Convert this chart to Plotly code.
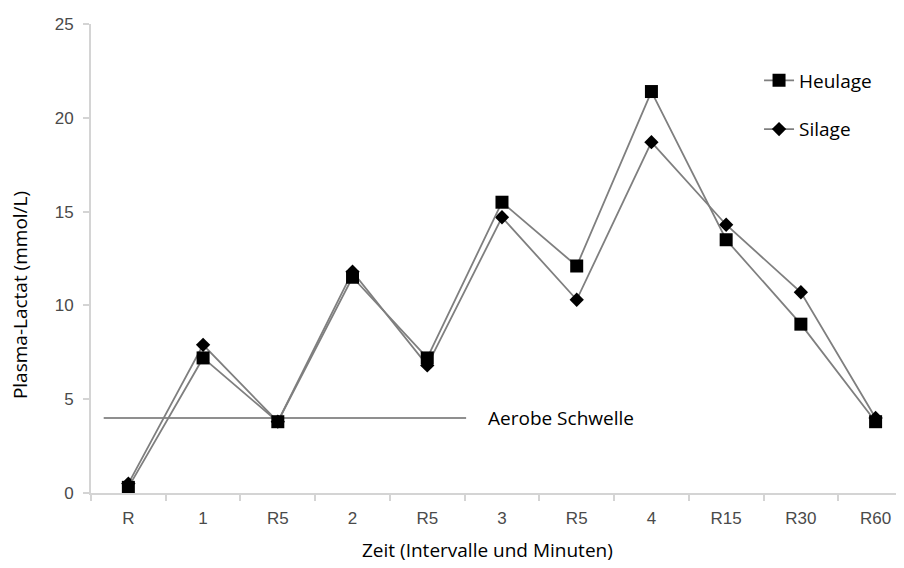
import plotly.graph_objects as go

categories = ["R", "1", "R5", "2", "R5", "3", "R5", "4", "R15", "R30", "R60"]
heulage = [0.3, 7.2, 3.8, 11.5, 7.2, 15.5, 12.1, 21.4, 13.5, 9.0, 3.8]
silage = [0.5, 7.9, 3.8, 11.8, 6.8, 14.7, 10.3, 18.7, 14.3, 10.7, 4.0]
threshold_value = 4.0
threshold_x = [-0.33, 4.52]
threshold_label = "Aerobe Schwelle"
y_ticks = [0, 5, 10, 15, 20, 25]

xpos = list(range(len(categories)))

TITLE_FONT = dict(family="Open Sans", size=19, color="black")

fig = go.Figure()
fig.add_trace(go.Scatter(
    x=threshold_x, y=[threshold_value, threshold_value], mode="lines",
    line=dict(color="#6a6a6a", width=1.5), showlegend=False, hoverinfo="skip"))
fig.add_trace(go.Scatter(
    x=xpos, y=silage, name="Silage", mode="lines+markers", legendrank=2,
    legendgroup="s",
    line=dict(color="#7f7f7f", width=1.8),
    marker=dict(symbol="diamond", size=11, color="black")))
fig.add_trace(go.Scatter(
    x=xpos, y=heulage, name="Heulage", mode="lines+markers", legendrank=1,
    legendgroup="h",
    line=dict(color="#7f7f7f", width=1.8),
    marker=dict(symbol="square", size=13, color="black")))

fig.add_annotation(x=4.79, y=threshold_value, xref="x", yref="y", text=threshold_label,
                   showarrow=False, xanchor="left", yanchor="middle", font=TITLE_FONT)

fig.add_annotation(x=0.488, y=-0.1215, xref="paper", yref="paper",
                   text="Zeit (Intervalle und Minuten)", showarrow=False,
                   xanchor="center", yanchor="middle", font=TITLE_FONT)

fig.add_annotation(x=-0.0873, y=0.422, xref="paper", yref="paper",
                   text="Plasma-Lactat (mmol/L)", showarrow=False, textangle=-90,
                   xanchor="center", yanchor="middle", font=TITLE_FONT)

fig.update_layout(
    width=896, height=560,
    margin=dict(l=83, r=0, t=16, b=75),
    plot_bgcolor="white", paper_bgcolor="white",
    legend=dict(x=0.8217, y=0.92, xanchor="left", yanchor="top",
                font=TITLE_FONT,
                itemwidth=30, tracegroupgap=21, bgcolor="rgba(0,0,0,0)"),
    xaxis=dict(
        range=[-0.5, 10.38], tickmode="array", tickvals=xpos, ticktext=categories,
        showgrid=False, zeroline=False, showline=True, linecolor="#d4d4d4", linewidth=2,
        ticks="", ticklabelstandoff=9,
        tickfont=dict(family="Liberation Sans", size=17, color="#4a4a4a"),
        minor=dict(tick0=0.5, dtick=1, ticks="outside", ticklen=6, tickcolor="#d4d4d4",
                   tickwidth=1.5, showgrid=False),
    ),
    yaxis=dict(
        range=[0, 25], tickmode="array", tickvals=y_ticks,
        showgrid=False, zeroline=False, showline=True, linecolor="#d4d4d4", linewidth=2,
        ticks="outside", ticklen=6, tickcolor="#d4d4d4", tickwidth=1.5,
        ticklabelstandoff=6,
        tickfont=dict(family="Liberation Sans", size=17, color="#4a4a4a"),
    ),
)

fig.write_html("out.html")
